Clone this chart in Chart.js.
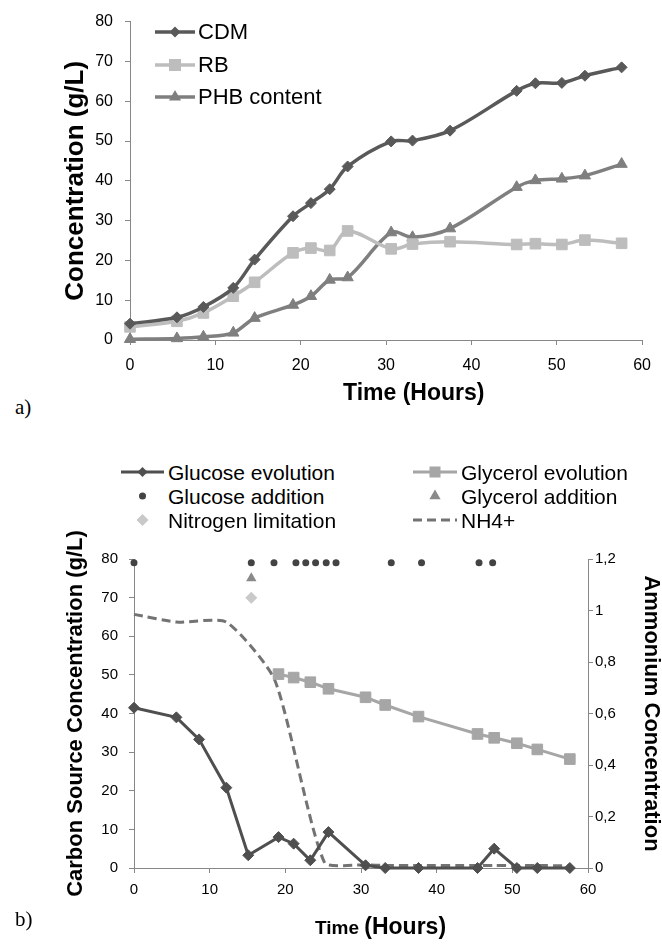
<!DOCTYPE html>
<html>
<head>
<meta charset="utf-8">
<script src="https://cdn.jsdelivr.net/npm/chart.js@4/dist/chart.umd.min.js"></script>
<style>
html,body{margin:0;padding:0;background:#fff;}
body{width:662px;height:947px;position:relative;overflow:hidden;font-family:"Liberation Sans",Arial,sans-serif;color:#000;}
canvas{position:absolute;left:0;}
#c1{top:0;}
#c2{top:530px;}
.t{position:absolute;white-space:nowrap;line-height:1;}
.ic{position:absolute;display:block;}
.panel{font-family:"Liberation Serif","Times New Roman",serif;font-size:21px;}
.axt{font-weight:bold;}
</style>
</head>
<body>
<canvas id="c1" width="662" height="380"></canvas>
<canvas id="c2" width="662" height="417"></canvas>
<div class="t axt" style="left:343px;top:381px;font-size:23px;">Time (Hours)</div>
<div class="t axt" style="left:315px;top:915px;font-size:23px;"><span style="font-size:19px;">Time </span>(Hours)</div>
<div class="t panel" style="left:15px;top:397px;">a)</div>
<div class="t panel" style="left:15px;top:909px;">b)</div>
<div id="legends"></div>
<script>
// ---------- Panel a data ----------
const timeA = [0, 5.5, 8.6, 12.1, 14.6, 19.1, 21.2, 23.4, 25.5, 30.6, 33.1, 37.5, 45.3, 47.5, 50.6, 53.3, 57.6];
const cdm   = [4.1, 5.7, 8.3, 13.1, 20.2, 31.1, 34.4, 37.9, 43.6, 49.9, 50.1, 52.6, 62.6, 64.5, 64.6, 66.4, 68.5];
const rb    = [3.3, 4.7, 6.8, 11.0, 14.5, 21.9, 23.1, 22.5, 27.4, 22.9, 24.1, 24.7, 24.0, 24.2, 24.0, 25.1, 24.3];
const phb   = [0.2, 0.4, 0.8, 1.8, 5.5, 8.8, 11.0, 15.1, 15.7, 27.0, 25.8, 28.0, 38.4, 40.1, 40.5, 41.3, 44.2];

// ---------- Panel b data ----------
const timeGlucose = [0, 5.6, 8.6, 12.2, 15.1, 19.1, 21.1, 23.3, 25.7, 30.6, 33.2, 37.6, 45.4, 47.6, 50.6, 53.3, 57.6];
const glucose     = [41.5, 39.0, 33.3, 20.8, 3.3, 8.0, 6.3, 2.0, 9.3, 0.7, 0, 0, 0, 5.0, 0, 0, 0];
const timeGlycerol = [19.1, 21.1, 23.3, 25.7, 30.6, 33.2, 37.6, 45.4, 47.6, 50.6, 53.3, 57.6];
const glycerol     = [50.2, 49.3, 48.1, 46.4, 44.2, 42.2, 39.2, 34.7, 33.7, 32.3, 30.7, 28.2];
const timeGlucoseAdd = [0, 15.5, 18.5, 21.4, 22.7, 24.0, 25.4, 26.7, 34.0, 38.0, 45.6, 47.4];
const glucoseAddY    = [79, 79, 79, 79, 79, 79, 79, 79, 79, 79, 79, 79];
const timeGlycerolAdd = [15.5];
const glycerolAddY    = [75];
const timeNitrogenLim = [15.5];
const nitrogenLimY    = [70];
const timeNH4 = [0, 5.6, 12.2, 18.6, 25.2, 30.6, 33.2, 37.6, 45.4, 47.6, 50.6, 53.3, 57.6];
const nh4     = [0.985, 0.955, 0.955, 0.73, 0.02, 0.012, 0.01, 0.01, 0.01, 0.01, 0.01, 0.01, 0.008];

const ammoniumTickLabels = ['0', '0,2', '0,4', '0,6', '0,8', '1', '1,2'];

const pts = (xs, ys) => xs.map((x, i) => ({x: x, y: ys[i]}));

Chart.defaults.font.family = '"Liberation Sans", Arial, sans-serif';
Chart.defaults.color = '#000';

const AX = '#878787';
const C_CDM = '#595959', C_RB = '#bdbdbd', C_PHB = '#7f7f7f';
const C_GLU = '#4f4f4f', C_GLY = '#a6a6a6', C_GADD = '#434343', C_YADD = '#8a8a8a', C_NLIM = '#c9c9c9', C_NH4 = '#737373';

function axisGrid(){ return {display:true, drawOnChartArea:false, drawTicks:true, tickLength:5, color:AX, lineWidth:1}; }

// ---------- Chart a ----------
new Chart(document.getElementById('c1'), {
  type: 'line',
  data: { datasets: [
    {label:'CDM', data: pts(timeA, cdm), borderColor:C_CDM, backgroundColor:C_CDM, pointBackgroundColor:C_CDM, pointBorderColor:C_CDM,
     borderWidth:3.5, pointStyle:'rectRot', pointRadius:5.5, pointBorderWidth:1, tension:0.33, clip:false},
    {label:'RB', data: pts(timeA, rb), borderColor:C_RB, backgroundColor:C_RB, pointBackgroundColor:C_RB, pointBorderColor:C_RB,
     borderWidth:3.5, pointStyle:'rect', pointRadius:7.5, pointBorderWidth:1, tension:0.33, clip:false},
    {label:'PHB content', data: pts(timeA, phb), borderColor:C_PHB, backgroundColor:C_PHB, pointBackgroundColor:C_PHB, pointBorderColor:C_PHB,
     borderWidth:3.5, pointStyle:'triangle', pointRadius:6.5, pointBorderWidth:1, tension:0.33, clip:false}
  ]},
  options: {
    responsive:false, animation:false, devicePixelRatio:1,
    layout:{padding:{left:0, right:16, top:14, bottom:0}},
    plugins:{legend:{display:false}, tooltip:{enabled:false}},
    scales:{
      x:{type:'linear', min:0, max:60,
         ticks:{stepSize:10, font:{size:16}, padding:11, maxRotation:0, color:'#000'},
         grid:axisGrid(), border:{display:true, color:AX, width:1},
         afterFit(s){ s.height = 40; }},
      y:{type:'linear', min:0, max:80,
         ticks:{stepSize:10, font:{size:16}, padding:12, color:'#000'},
         grid:axisGrid(), border:{display:true, color:AX, width:1},
         title:{display:true, text:'Concentration (g/L)', color:'#000', font:{size:26, weight:'bold', lineHeight:1}, padding:{top:63, bottom:0}},
         afterFit(s){ s.width = 130; }}
    }
  }
});

// ---------- Chart b ----------
new Chart(document.getElementById('c2'), {
  type: 'line',
  data: { datasets: [
    {label:'Glucose evolution', data: pts(timeGlucose, glucose), yAxisID:'y', borderColor:C_GLU, backgroundColor:C_GLU,
     pointBackgroundColor:C_GLU, pointBorderColor:C_GLU, borderWidth:3, pointStyle:'rectRot', pointRadius:5.5, pointBorderWidth:1, tension:0, clip:false},
    {label:'Glycerol evolution', data: pts(timeGlycerol, glycerol), yAxisID:'y', borderColor:C_GLY, backgroundColor:C_GLY,
     pointBackgroundColor:C_GLY, pointBorderColor:C_GLY, borderWidth:3, pointStyle:'rect', pointRadius:7.5, pointBorderWidth:1, tension:0, clip:false},
    {label:'Glucose addition', data: pts(timeGlucoseAdd, glucoseAddY), yAxisID:'y', showLine:false, borderColor:C_GADD, backgroundColor:C_GADD,
     pointBackgroundColor:C_GADD, pointBorderColor:C_GADD, pointStyle:'circle', pointRadius:3.5, pointBorderWidth:0, clip:false},
    {label:'Glycerol addition', data: pts(timeGlycerolAdd, glycerolAddY), yAxisID:'y', showLine:false, borderColor:C_YADD, backgroundColor:C_YADD,
     pointBackgroundColor:C_YADD, pointBorderColor:C_YADD, pointStyle:'triangle', pointRadius:6, pointBorderWidth:0, clip:false},
    {label:'Nitrogen limitation', data: pts(timeNitrogenLim, nitrogenLimY), yAxisID:'y', showLine:false, borderColor:C_NLIM, backgroundColor:C_NLIM,
     pointBackgroundColor:C_NLIM, pointBorderColor:C_NLIM, pointStyle:'rectRot', pointRadius:6, pointBorderWidth:0, clip:false},
    {label:'NH4+', data: pts(timeNH4, nh4), yAxisID:'y1', borderColor:C_NH4, backgroundColor:C_NH4, borderWidth:3, borderDash:[9,5],
     pointRadius:0, tension:0.2, clip:false}
  ]},
  options: {
    responsive:false, animation:false, devicePixelRatio:1,
    layout:{padding:{left:0, right:0, top:29, bottom:0}},
    plugins:{legend:{display:false}, tooltip:{enabled:false}},
    scales:{
      x:{type:'linear', min:0, max:60,
         ticks:{stepSize:10, font:{size:15}, padding:8, maxRotation:0, color:'#000'},
         grid:axisGrid(), border:{display:true, color:AX, width:1},
         afterFit(s){ s.height = 79; }},
      y:{type:'linear', position:'left', min:0, max:80,
         ticks:{stepSize:10, font:{size:15}, padding:11, color:'#000'},
         grid:axisGrid(), border:{display:true, color:AX, width:1},
         title:{display:true, text:'Carbon Source Concentration (g/L)', color:'#000', font:{size:22, weight:'bold', lineHeight:1}, padding:{top:65, bottom:0}},
         afterFit(s){ s.width = 134; }},
      y1:{type:'linear', position:'right', min:0, max:1.2,
         ticks:{stepSize:0.2, font:{size:15}, padding:2, color:'#000', callback:(v, i) => ammoniumTickLabels[i]},
         grid:axisGrid(), border:{display:true, color:AX, width:1},
         title:{display:true, text:'Ammonium Concentration', color:'#000', font:{size:22, weight:'bold', lineHeight:1}, padding:{top:0, bottom:0}},
         afterFit(s){ s.width = 74; }}
    }
  }
});

// ---------- Legends (HTML) ----------
function icon(w, color, lineW, dash, marker, mColor, r){
  const h = 20, cy = 10, cx = w / 2;
  let s = '<svg xmlns="http://www.w3.org/2000/svg" width="' + w + '" height="' + h + '">';
  if (lineW) s += '<line x1="0" y1="' + cy + '" x2="' + w + '" y2="' + cy + '" stroke="' + color + '" stroke-width="' + lineW + '"' + (dash ? ' stroke-dasharray="' + dash + '"' : '') + '/>';
  if (marker === 'diamond') s += '<polygon points="' + cx + ',' + (cy - r) + ' ' + (cx + r) + ',' + cy + ' ' + cx + ',' + (cy + r) + ' ' + (cx - r) + ',' + cy + '" fill="' + mColor + '"/>';
  if (marker === 'square') s += '<rect x="' + (cx - r) + '" y="' + (cy - r) + '" width="' + (2 * r) + '" height="' + (2 * r) + '" fill="' + mColor + '"/>';
  if (marker === 'triangle') s += '<polygon points="' + cx + ',' + (cy - r) + ' ' + (cx + r * 0.866) + ',' + (cy + r * 0.5) + ' ' + (cx - r * 0.866) + ',' + (cy + r * 0.5) + '" fill="' + mColor + '"/>';
  if (marker === 'circle') s += '<circle cx="' + cx + '" cy="' + cy + '" r="' + r + '" fill="' + mColor + '"/>';
  return s + '</svg>';
}
const legendItems = [
  // panel a
  {text:'CDM', cy:32, il:155, iw:40, tl:198, fs:22, svg:icon(40, C_CDM, 3.5, null, 'diamond', C_CDM, 5.5)},
  {text:'RB', cy:65, il:155, iw:40, tl:198, fs:22, svg:icon(40, C_RB, 3.5, null, 'square', C_RB, 6)},
  {text:'PHB content', cy:97, il:155, iw:40, tl:198, fs:22, svg:icon(40, C_PHB, 3.5, null, 'triangle', C_PHB, 7)},
  // panel b
  {text:'Glucose evolution', cy:472, il:121, iw:43, tl:168, fs:21, svg:icon(43, C_GLU, 3, null, 'diamond', C_GLU, 5)},
  {text:'Glucose addition', cy:496, il:121, iw:43, tl:168, fs:21, svg:icon(43, null, 0, null, 'circle', C_GADD, 3.5)},
  {text:'Nitrogen limitation', cy:520, il:121, iw:43, tl:168, fs:21, svg:icon(43, null, 0, null, 'diamond', C_NLIM, 6)},
  {text:'Glycerol evolution', cy:472, il:413, iw:44, tl:461, fs:21, svg:icon(44, C_GLY, 3, null, 'square', C_GLY, 5.5)},
  {text:'Glycerol addition', cy:496, il:413, iw:44, tl:461, fs:21, svg:icon(44, null, 0, null, 'triangle', C_YADD, 6.5)},
  {text:'NH4+', cy:520, il:413, iw:44, tl:461, fs:21, svg:icon(44, C_NH4, 3, '9,5', null, null, 0)}
];
const lg = document.getElementById('legends');
legendItems.forEach(it => {
  const ic = document.createElement('div');
  ic.className = 'ic';
  ic.style.left = it.il + 'px';
  ic.style.top = (it.cy - 10) + 'px';
  ic.innerHTML = it.svg;
  lg.appendChild(ic);
  const t = document.createElement('div');
  t.className = 't';
  t.style.left = it.tl + 'px';
  t.style.top = (it.cy - it.fs / 2) + 'px';
  t.style.fontSize = it.fs + 'px';
  t.textContent = it.text;
  lg.appendChild(t);
});
</script>
</body>
</html>
